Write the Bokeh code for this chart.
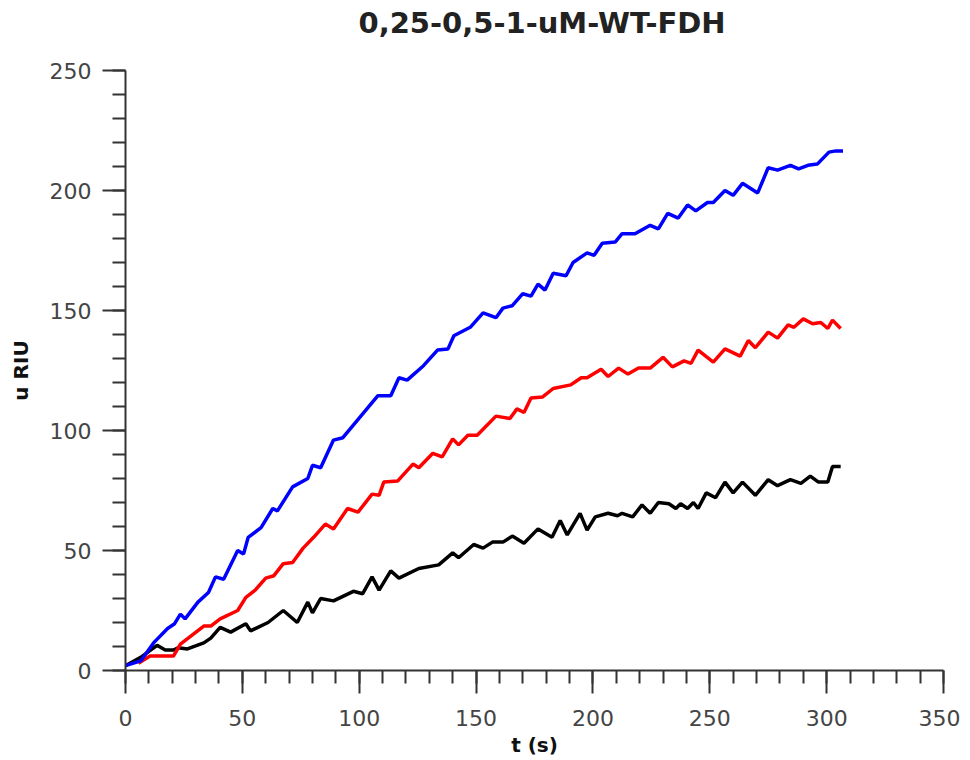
from bokeh.plotting import figure
from bokeh.models import Range1d, SingleIntervalTicker, Title
from bokeh.embed import file_html
from bokeh.resources import INLINE

title_text = "0,25-0,5-1-uM-WT-FDH"
x_label = "t (s)"
y_label = "u RIU"

blue_t = [0, 6.5, 12, 18, 21, 23.5, 25.5, 31, 35.5, 38.5, 42, 48, 50.5, 52.5, 58, 63, 65, 71.5, 78, 80,
          83.5, 89, 93, 99, 108, 113.5, 117, 120.5, 127.5, 133.5, 138, 140.5, 147.5, 153, 158.5, 161.5,
          165.5, 170, 173.5, 176.5, 179.5, 183, 188.5, 191.5, 197.5, 200.5, 204, 209.5, 212.5, 218,
          224.5, 228, 232, 236.5, 240.5, 244, 249, 251.5, 256.5, 260, 264, 270.5, 275, 279, 284.5,
          288, 292, 296, 301, 304, 307]
blue_v = [2, 4, 11.5, 17.5, 19.5, 23.5, 21.5, 28.5, 32.5, 39, 38, 50, 48.5, 55.5, 59.5, 67.5, 66.5, 76.5, 80, 85.5,
          84.5, 96, 97, 104, 114.5, 114.5, 122, 121, 127, 133.5, 134, 139.5, 143, 149, 147, 151,
          152, 157, 156, 161, 158.5, 165.5, 164.5, 170, 174, 173, 178, 178.5, 182, 182,
          185.5, 184, 190.5, 188.5, 194, 191.5, 195, 195, 200, 198, 203, 199, 209.5, 208.5, 210.5,
          209, 210.5, 211, 216, 216.5, 216.5]

red_t = [5.5, 10.5, 20.5, 23.5, 33.5, 36.5, 40.5, 48, 51.5, 55.5, 60, 63.5, 67.5, 71.5, 76, 80.5, 85.5, 89,
         95, 99.5, 105.5, 108.5, 110.5, 116.5, 123, 125.5, 131.5, 135.5, 140, 142.5, 146.5, 150.5, 158.5,
         164.5, 167.5, 170.5, 173.5, 178.5, 183, 190.5, 195, 197.5, 203.5, 206.5, 211, 215, 219.5, 224.5,
         230, 234, 239, 242, 245, 251.5, 256.5, 263, 266.5, 269.5, 275, 279, 283.5, 286, 290, 294, 297.5,
         300.5, 302.5, 306]
red_v = [3, 6, 6, 11, 18.5, 18.5, 21.5, 25, 30.5, 33.5, 38.5, 39.5, 44.5, 45, 51, 55.5, 61, 59,
         67.5, 66, 73.5, 73, 78.5, 79, 86, 84.5, 90.5, 89, 96.5, 94, 98, 98, 106,
         105, 109, 107.5, 113.5, 114, 117.5, 119, 122, 122, 125.5, 122.5, 126, 123.5, 126, 126,
         130.5, 126.5, 129, 128, 133.5, 128.5, 134, 131, 137.5, 134.5, 141, 138.5, 144, 143, 146.5, 144.5, 145,
         142.5, 146, 142.5]

black_t = [0, 6.5, 13.5, 17, 20.5, 22.5, 26.5, 33.5, 36.5, 40.5, 45, 51.5, 53.5, 61, 67.5, 73.5, 78, 80,
           83.5, 89, 97.5, 101.5, 105.5, 108.5, 113.5, 117, 125.5, 134, 140, 142.5, 149, 153, 157, 161.5,
           165.5, 170.5, 176.5, 182.5, 186, 189, 194.5, 197.5, 201, 206.5, 210.5, 212.5, 217, 221, 224.5,
           228, 232.5, 235.5, 237.5, 240.5, 243, 245, 248.5, 252.5, 256.5, 260, 264, 269.5, 275, 279,
           284.5, 289, 293, 296.5, 300.5, 302.5, 306]
black_v = [2, 5.5, 10.5, 8.5, 8.5, 9.5, 9, 11.5, 13.5, 18, 16, 19.5, 16.5, 20, 25, 20, 28.5, 24,
           30, 29, 33, 32, 39, 33.5, 41.5, 38.5, 42.5, 44, 49, 47, 52.5, 51, 53.5, 53.5,
           56, 53, 59, 55.5, 62.5, 56.5, 65.5, 58.5, 64, 65.5, 64.5, 65.5, 64, 69, 65.5,
           70, 69.5, 67.5, 69.5, 67.5, 70, 67.5, 74, 72, 78.5, 74, 78.5, 73, 79.5, 77,
           79.5, 78, 81, 78.5, 78.5, 85, 85]

p = figure(width=960, height=760, output_backend="svg", toolbar_location=None,
           x_range=Range1d(0, 350), y_range=Range1d(0, 250),
           min_border_left=125, min_border_right=17, min_border_top=70, min_border_bottom=90)

# blank spacer panel between the title and the plotting area
p.add_layout(Title(text=" ", text_font_size="20px", standoff=0), "above")

p.title.text = title_text
p.title.align = "left"
p.title.offset = 233
p.title.vertical_align = "top"
p.title.standoff = 9
p.title.text_font = "DejaVu Sans"
p.title.text_font_size = "29px"
p.title.text_font_style = "bold"
p.title.text_color = "#222222"

p.outline_line_color = None
p.xgrid.visible = False
p.ygrid.visible = False
p.background_fill_color = "white"
p.border_fill_color = "white"

for ax, lab in ((p.xaxis[0], x_label), (p.yaxis[0], y_label)):
    ax.axis_label = lab
    ax.axis_label_text_font = "DejaVu Sans"
    ax.axis_label_text_font_size = "20px"
    ax.axis_label_text_font_style = "bold"
    ax.axis_label_text_color = "#111111"
    ax.major_label_text_font = "DejaVu Sans"
    ax.major_label_text_font_size = "22px"
    ax.major_label_text_color = "#444444"
    ax.axis_line_color = "#333333"
    ax.axis_line_width = 2
    ax.major_tick_line_color = "#333333"
    ax.major_tick_line_width = 2
    ax.minor_tick_line_color = "#333333"
    ax.minor_tick_line_width = 2
    ax.major_tick_in = 0
    ax.major_tick_out = 23
    ax.minor_tick_in = 0
    ax.minor_tick_out = 13
    ax.ticker = SingleIntervalTicker(interval=50, num_minor_ticks=5)

p.xaxis[0].major_label_standoff = 16
p.xaxis[0].axis_label_standoff = 4
p.yaxis[0].major_label_standoff = 11
p.yaxis[0].axis_label_standoff = 14

p.line(black_t, black_v, line_color="#000000", line_width=3.5)
p.line(red_t, red_v, line_color="#ff0000", line_width=3.5)
p.line(blue_t, blue_v, line_color="#0000ff", line_width=3.5)

open("out.html", "w").write(file_html(p, INLINE))
